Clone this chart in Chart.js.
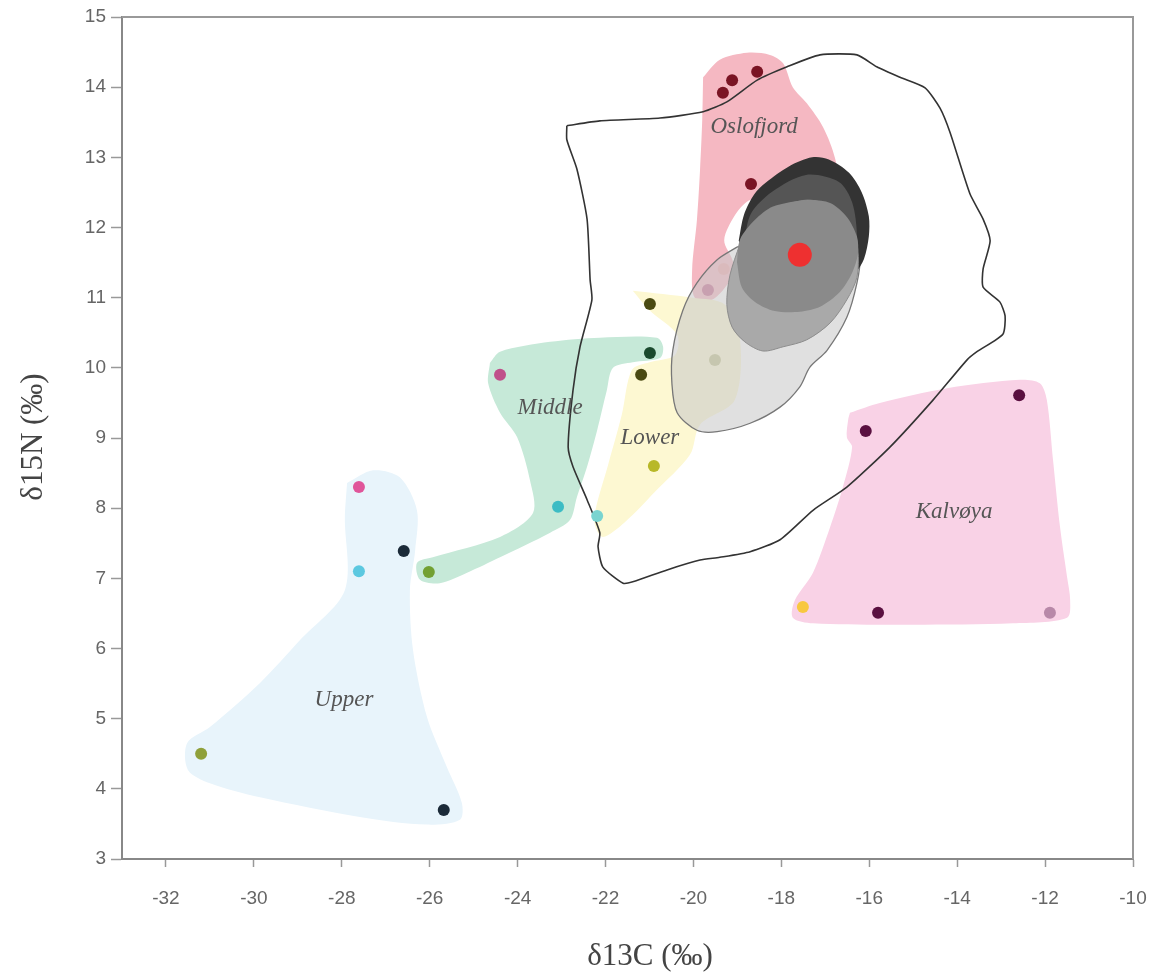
<!DOCTYPE html>
<html>
<head>
<meta charset="utf-8">
<script src="https://cdn.jsdelivr.net/npm/chart.js@4.4.1/dist/chart.umd.min.js"></script>
<style>
  body { margin: 0; background: #fff; }
  #wrap { width: 1176px; height: 975px; }
</style>
</head>
<body>
<div id="wrap"><canvas id="chart"></canvas></div>
<script>
// tick labels
const xTicks = [-32, -30, -28, -26, -24, -22, -20, -18, -16, -14, -12, -10];
const yTicks = [3, 4, 5, 6, 7, 8, 9, 10, 11, 12, 13, 14, 15];

// samples (d13C, d15N)
const upperPts = [[-27.61, 8.30], [-27.61, 7.10], [-26.59, 7.39], [-31.20, 4.50], [-25.68, 3.70]];
const middlePts = [[-24.40, 9.90], [-20.99, 10.21], [-23.08, 8.02], [-26.02, 7.09]];
const lowerPts = [[-20.99, 10.91], [-21.19, 9.90], [-20.90, 8.60], [-22.19, 7.89], [-19.51, 10.11]];
const osloPts = [[-19.33, 13.92], [-19.12, 14.10], [-18.55, 14.22], [-18.69, 12.62], [-19.31, 11.41], [-19.67, 11.11]];
const kalvPts = [[-16.08, 9.10], [-12.59, 9.61], [-17.51, 6.59], [-15.80, 6.51], [-11.89, 6.51]];
const meanPt = [[-17.58, 11.61]];

// group outlines
const upperHull = [[-27.88, 8.36], [-27.29, 8.54], [-26.68, 8.44], [-26.29, 7.97], [-26.33, 7.40], [-26.45, 6.83],
  [-26.38, 5.98], [-26.06, 5.02], [-25.61, 4.31], [-25.27, 3.80], [-25.31, 3.56], [-26.06, 3.49], [-27.59, 3.60],
  [-29.86, 3.88], [-31.00, 4.08], [-31.50, 4.27], [-31.52, 4.65], [-31.00, 4.88], [-29.86, 5.51], [-28.95, 6.12],
  [-27.93, 6.83], [-27.93, 7.87], [-27.88, 8.36]];
const middleHull = [[-24.63, 10.07], [-24.40, 10.23], [-23.26, 10.37], [-22.13, 10.43], [-20.83, 10.43], [-20.69, 10.30],
  [-20.76, 10.14], [-21.38, 10.08], [-21.83, 10.00], [-21.97, 9.68], [-22.19, 9.11], [-22.42, 8.59], [-22.65, 8.16],
  [-22.81, 7.83], [-23.26, 7.65], [-24.40, 7.30], [-25.15, 7.08], [-25.77, 6.93], [-26.22, 6.98], [-26.29, 7.22],
  [-25.93, 7.30], [-24.40, 7.59], [-23.65, 7.93], [-23.72, 8.40], [-24.01, 9.01], [-24.40, 9.36], [-24.67, 9.78],
  [-24.63, 10.07]];
const lowerHull = [[-21.38, 11.10], [-20.01, 11.00], [-19.28, 10.90], [-18.94, 10.40], [-19.06, 9.54], [-19.85, 9.19],
  [-20.08, 8.76], [-20.88, 8.23], [-21.56, 7.80], [-22.06, 7.59], [-22.24, 7.76], [-22.22, 8.00], [-21.94, 8.62],
  [-21.63, 9.33], [-21.40, 9.97], [-21.00, 10.08], [-20.42, 10.18], [-20.37, 10.47], [-21.00, 10.82], [-21.38, 11.10]];
const osloHull = [[-19.78, 14.14], [-19.40, 14.39], [-18.78, 14.49], [-18.26, 14.46], [-17.96, 14.34], [-17.74, 14.00],
  [-17.42, 13.77], [-17.05, 13.43], [-16.78, 12.99], [-16.71, 12.53], [-17.58, 12.61], [-18.37, 12.46], [-18.75, 12.38],
  [-19.05, 12.18], [-19.30, 11.82], [-19.10, 11.51], [-19.17, 11.25], [-19.58, 10.97], [-19.97, 11.00], [-20.03, 11.39],
  [-19.92, 12.11], [-19.85, 12.82], [-19.80, 13.53], [-19.78, 14.14]];
const kalvHull = [[-16.44, 9.36], [-15.76, 9.50], [-14.23, 9.71], [-12.57, 9.83], [-12.12, 9.78], [-11.96, 9.54],
  [-11.82, 8.69], [-11.66, 7.73], [-11.50, 7.02], [-11.43, 6.69], [-11.50, 6.44], [-12.73, 6.36], [-15.01, 6.34],
  [-17.28, 6.36], [-17.74, 6.44], [-17.69, 6.69], [-17.28, 7.08], [-16.89, 7.73], [-16.60, 8.30], [-16.39, 8.87],
  [-16.51, 9.01], [-16.48, 9.26], [-16.44, 9.36]];
const preyOutline = [[-22.88, 13.45], [-22.13, 13.52], [-20.76, 13.56], [-19.78, 13.65], [-19.24, 13.79], [-18.55, 14.10],
  [-17.87, 14.29], [-17.12, 14.46], [-16.28, 14.46], [-15.83, 14.29], [-15.30, 14.14], [-14.73, 13.99], [-14.39, 13.70],
  [-14.16, 13.35], [-13.71, 12.48], [-13.41, 12.12], [-13.25, 11.81], [-13.41, 11.41], [-13.41, 11.15], [-13.03, 10.94],
  [-12.91, 10.74], [-12.96, 10.48], [-13.55, 10.23], [-13.78, 10.11], [-14.55, 9.54], [-15.53, 8.87], [-16.51, 8.30],
  [-17.28, 7.97], [-18.03, 7.55], [-18.71, 7.38], [-19.40, 7.30], [-19.85, 7.26], [-20.60, 7.12], [-21.38, 6.95],
  [-21.60, 6.93], [-22.06, 7.16], [-22.17, 7.45], [-22.13, 7.65], [-22.42, 8.12], [-22.74, 8.59], [-22.85, 8.87],
  [-22.74, 9.68], [-22.58, 10.30], [-22.31, 10.97], [-22.35, 11.25], [-22.42, 12.12], [-22.65, 12.83], [-22.88, 13.25],
  [-22.88, 13.45]];

// ellipses, outer to inner
const ellLight = [[-19.01, 11.72], [-19.46, 11.54], [-19.92, 11.21], [-20.24, 10.82], [-20.47, 10.25], [-20.49, 9.78],
  [-20.37, 9.36], [-19.92, 9.11], [-19.46, 9.09], [-18.71, 9.21], [-18.03, 9.44], [-17.58, 9.73], [-17.35, 10.01],
  [-16.96, 10.25], [-16.51, 10.72], [-16.28, 11.21], [-16.21, 11.58], [-16.33, 11.89], [-16.89, 12.04], [-17.80, 11.99],
  [-18.49, 11.86], [-19.01, 11.72]];
const ellDarkest = [[-18.97, 11.81], [-18.85, 12.18], [-18.62, 12.47], [-18.35, 12.64], [-17.83, 12.87], [-17.30, 13.00],
  [-16.92, 12.97], [-16.46, 12.78], [-16.17, 12.50], [-16.01, 12.16], [-16.01, 11.87], [-16.12, 11.55], [-16.31, 11.35],
  [-16.58, 11.16], [-17.15, 11.09], [-17.83, 11.16], [-18.40, 11.38], [-18.74, 11.55], [-18.97, 11.81]];
const ellDark = [[-18.85, 11.80], [-18.69, 12.20], [-18.21, 12.51], [-17.44, 12.75], [-16.69, 12.65], [-16.39, 12.36],
  [-16.28, 11.89], [-16.35, 11.50], [-16.92, 11.22], [-17.83, 11.22], [-18.51, 11.43], [-18.85, 11.80]];
const ellMid = [[-18.94, 11.77], [-18.60, 12.04], [-18.19, 12.25], [-17.42, 12.39], [-16.83, 12.29], [-16.37, 11.96],
  [-16.26, 11.68], [-16.28, 11.29], [-16.51, 10.97], [-16.89, 10.64], [-17.42, 10.40], [-17.96, 10.30], [-18.42, 10.24],
  [-18.83, 10.37], [-19.12, 10.58], [-19.24, 10.90], [-19.17, 11.32], [-18.94, 11.77]];
const ellCore = [[-19.01, 11.51], [-18.94, 11.83], [-18.60, 12.11], [-18.19, 12.30], [-17.42, 12.39], [-16.89, 12.35],
  [-16.51, 12.15], [-16.28, 11.87], [-16.26, 11.62], [-16.40, 11.34], [-16.67, 11.08], [-17.12, 10.87], [-17.58, 10.80],
  [-18.15, 10.81], [-18.60, 10.94], [-18.90, 11.15], [-19.01, 11.51]];

// region names
const groupNames = ['Oslofjord', 'Middle', 'Lower', 'Upper', 'Kalvøya'];
const namePos = [[-18.62, 13.43], [-23.26, 9.43], [-20.99, 9.00], [-27.95, 5.27], [-14.07, 7.95]];

const upperColors = ['#e0559a', '#5cc8e0', '#1b2a38', '#8fa03a', '#1b2a38'];
const middleColors = ['#c0508a', '#1a4a2e', '#3cbcc4', '#72a032'];
const lowerColors = ['#4a4a12', '#4a4a12', '#b8b828', '#7ad4d0', '#c4c48e'];
const osloColors = ['#7a1424', '#7a1424', '#7a1424', '#7a1424', '#f2a8ac', '#c86b90'];
const kalvColors = ['#5a1040', '#5a1040', '#f8c840', '#5a1040', '#b888a8'];

const xy = arr => arr.map(p => ({x: p[0], y: p[1]}));

function shape(data, color, order, opts) {
  return Object.assign({
    type: 'line',
    data: xy(data),
    backgroundColor: color,
    borderColor: color,
    borderWidth: 0,
    pointRadius: 0,
    fill: 'shape',
    tension: 0.3,
    order: order
  }, opts || {});
}

function dots(data, colors, order, r) {
  return {
    type: 'scatter',
    data: xy(data),
    pointRadius: r || 6,
    pointHoverRadius: r || 6,
    pointBackgroundColor: colors,
    pointBorderWidth: 0,
    showLine: false,
    order: order
  };
}

const ctx = document.querySelector('#chart').getContext('2d');

// frame, group names and axis titles
const decor = {
  id: 'decor',
  afterDatasetsDraw(chart) {
    const c = chart.ctx;
    const {x, y} = chart.scales;
    c.save();
    c.fillStyle = '#555';
    c.font = 'italic 23px "Liberation Serif"';
    c.textAlign = 'center';
    c.textBaseline = 'middle';
    groupNames.forEach((n, i) => {
      c.fillText(n, x.getPixelForValue(namePos[i][0]), y.getPixelForValue(namePos[i][1]));
    });
    c.restore();
  },
  afterDraw(chart) {
    const c = chart.ctx;
    const a = chart.chartArea;
    c.save();
    c.strokeStyle = '#999';
    c.lineWidth = 2;
    c.beginPath();
    c.moveTo(a.left, a.top);
    c.lineTo(a.right, a.top);
    c.lineTo(a.right, a.bottom);
    c.stroke();
    c.fillStyle = '#444';
    c.font = '31px "Liberation Serif"';
    c.textAlign = 'center';
    c.textBaseline = 'middle';
    c.fillText('δ13C (‰)', 650, 957);
    c.translate(34, 437);
    c.rotate(-Math.PI / 2);
    c.fillText('δ15N (‰)', 0, 0);
    c.restore();
  }
};

new Chart(ctx, {
  type: 'scatter',
  data: {
    datasets: [
      dots(meanPt, ['#ee3030'], 0, 12),
      shape(ellCore, '#8a8a8a', 1),
      shape(ellMid, '#a9a9a9', 2, {borderColor: '#8c8c8c', borderWidth: 1}),
      shape(ellDark, '#555555', 3),
      shape(ellDarkest, '#333333', 4),
      shape(ellLight, 'rgba(200,200,200,0.57)', 5, {borderColor: '#777', borderWidth: 1.3}),
      dots(upperPts, upperColors, 6),
      dots(middlePts, middleColors, 6),
      dots(lowerPts, lowerColors, 6),
      dots(osloPts, osloColors, 6),
      dots(kalvPts, kalvColors, 6),
      shape(preyOutline, 'transparent', 7, {fill: false, borderColor: '#333', borderWidth: 1.6, tension: 0.2}),
      shape(middleHull, '#c6e9d8', 8),
      shape(lowerHull, '#fdf8d2', 9),
      shape(osloHull, '#f5b8c2', 10),
      shape(kalvHull, '#f9d2e6', 10),
      shape(upperHull, '#e8f4fb', 10)
    ]
  },
  options: {
    responsive: true,
    maintainAspectRatio: false,
    animation: false,
    layout: { padding: { top: 17, right: 43, left: 0, bottom: 0 } },
    plugins: { legend: { display: false }, tooltip: { enabled: false } },
    scales: {
      x: {
        type: 'linear',
        min: -33,
        max: -10,
        afterBuildTicks: axis => { axis.ticks = xTicks.map(v => ({value: v})); },
        afterFit: axis => { axis.height = 116; },
        grid: { drawOnChartArea: false, drawTicks: true, tickLength: 8, tickColor: '#999', tickWidth: 1.5 },
        border: { color: '#888', width: 2 },
        ticks: { padding: 20, color: '#666', font: { family: 'Liberation Sans', size: 19 } }
      },
      y: {
        type: 'linear',
        min: 3,
        max: 15,
        afterBuildTicks: axis => { axis.ticks = yTicks.map(v => ({value: v})); },
        afterFit: axis => { axis.width = 122; },
        grid: { drawOnChartArea: false, drawTicks: true, tickLength: 11, tickColor: '#999', tickWidth: 1.5 },
        border: { color: '#888', width: 2 },
        ticks: { padding: 5, color: '#666', font: { family: 'Liberation Sans', size: 19 } }
      }
    }
  },
  plugins: [decor]
});
</script>
</body>
</html>
